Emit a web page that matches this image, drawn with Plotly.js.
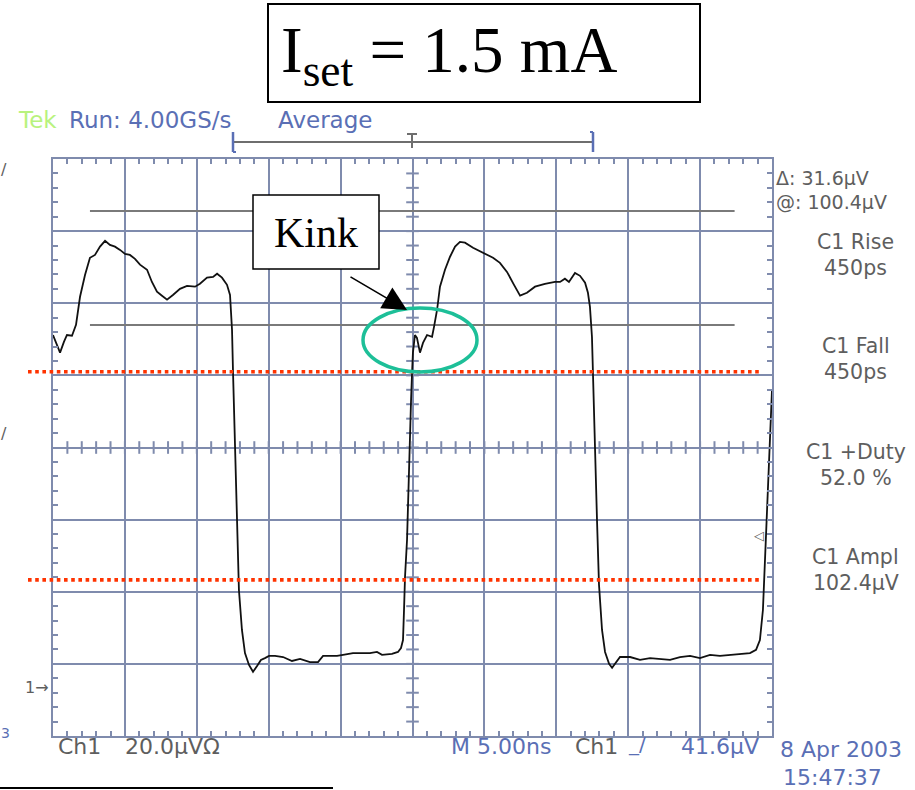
<!DOCTYPE html>
<html>
<head>
<meta charset="utf-8">
<script src="https://cdn.plot.ly/plotly-3.0.1.min.js"></script>
<style>html,body{margin:0;padding:0;background:#fff;}#chart{width:915px;height:790px;}</style>
</head>
<body>
<div id="chart"></div>
<script>
// ---- data (time in ns, 5 ns/div; voltage in µV, 20 µV/div) ----
const timeNs = [0,0.28,0.49,0.76,0.97,1.32,1.60,1.88,2.23,2.57,2.92,3.27,3.62,3.96,4.31,4.66,5.01,5.35,5.70,6.05,6.54,6.88,7.23,7.58,7.93,8.34,8.83,9.32,9.88,10.22,10.71,11.13,11.41,11.75,12.10,12.31,12.45,12.52,12.66,12.80,12.93,13.14,13.35,13.63,13.91,14.19,14.46,14.74,15.02,15.44,16.00,16.62,17.18,17.87,18.43,18.78,19.75,20.17,20.86,21.56,22.04,22.53,22.88,23.57,23.99,24.20,24.34,24.41,24.48,24.62,24.76,24.90,24.97,25.03,25.17,25.31,25.52,25.73,26.01,26.36,26.50,26.71,26.91,27.26,27.61,27.96,28.30,28.65,29.21,29.90,30.60,31.08,31.57,32.06,32.48,32.96,33.52,34.21,34.91,35.26,35.60,35.88,36.30,36.65,37.00,37.20,37.34,37.48,37.55,37.69,37.83,37.97,38.18,38.39,38.67,38.88,39.16,39.43,40.13,40.82,41.52,42.21,42.91,43.60,44.30,44.99,45.69,46.38,47.08,47.77,48.47,48.89,49.16,49.37,49.58,49.79,50.00];
const voltUV = [97.6,94.9,92.7,95.7,97.6,97.4,100.4,108.2,114.3,119.0,119.8,122.1,123.7,122.6,122.1,121.2,120.1,119.8,118.7,117.1,115.7,112.3,109.6,108.5,107.4,108.7,110.4,111.2,111.0,111.8,113.5,113.7,114.6,113.5,111.5,108.7,99.0,87.1,66.6,46.3,26.9,15.8,9.4,6.1,4.2,5.8,7.5,8.0,8.6,8.6,8.3,7.2,7.8,6.9,6.9,8.6,8.6,8.9,9.4,9.4,9.4,9.7,8.9,9.2,9.7,10.8,13.0,21.4,30.5,40.8,63.0,79.6,87.1,92.7,97.6,96.8,92.7,95.4,97.6,97.1,99.9,104.6,111.0,115.7,119.3,122.1,123.4,123.2,121.8,120.4,119.0,117.6,115.1,111.5,108.5,109.3,111.0,111.8,112.3,112.3,113.2,112.3,114.8,114.0,112.1,109.3,105.4,97.1,85.2,65.7,46.3,28.3,15.8,9.7,6.4,5.3,6.9,8.3,8.3,7.5,8.0,7.8,7.5,8.3,8.6,8.0,8.9,8.6,8.9,9.2,9.4,10.3,13.0,21.4,40.8,63.0,82.4];
const cursorLevels = [132.0, 100.4];      // gray measurement cursors (Δ 31.6 µV, @ 100.4 µV)
const cursorSpan = [2.57, 47.4];
const markerLevels = [87.4, 29.7];        // red dotted reference lines
const headerTexts = ["Tek", "Run: 4.00GS/s", "Average"];
const measureLabels = ["C1 Rise", "C1 Fall", "C1 +Duty", "C1 Ampl"];
const measureValues = ["450ps", "450ps", "52.0 %", "102.4µV"];
const cursorTexts = ["Δ: 31.6µV", "@: 100.4µV"];

// ---- scope setup ----
const nsPerDiv = 5, uvPerDiv = 20, yMin = -13.6;
const xRange = [0, 10 * nsPerDiv], yRange = [yMin, yMin + 8 * uvPerDiv];
const GRID = '#7f8bad', BLUE = '#5a6fb5', GRAY = '#5e5e5e';
const FONT = 'DejaVu Sans';

// pixel -> paper helpers for overlay decorations
const L = 53, R = 772, T = 159, B = 736;
const px = x => (x - L) / (R - L);
const py = y => (B - y) / (B - T);
const vy = v => (v - yRange[0]) / (yRange[1] - yRange[0]);

// graticule minor ticks on centre lines
const xc = (xRange[0] + xRange[1]) / 2, yc = (yRange[0] + yRange[1]) / 2;
const hx = [], hy = [], vx = [], vyv = [];
for (let i = 1; i < 50; i++) { hx.push(xRange[0] + i * nsPerDiv / 5); hy.push(yc); }
for (let i = 1; i < 40; i++) { vyv.push(yRange[0] + i * uvPerDiv / 5); vx.push(xc); }

const traces = [
  {x: hx, y: hy, mode: 'markers', hoverinfo: 'skip',
   marker: {symbol: 'line-ns-open', size: 9, color: GRID, line: {width: 2, color: GRID}}},
  {x: vx, y: vyv, mode: 'markers', hoverinfo: 'skip',
   marker: {symbol: 'line-ew-open', size: 9, color: GRID, line: {width: 2, color: GRID}}},
];
cursorLevels.forEach(v => traces.push({x: cursorSpan, y: [v, v], mode: 'lines',
  line: {color: '#7a7a7a', width: 2}, hoverinfo: 'skip'}));
traces.push({x: timeNs, y: voltUV, mode: 'lines', line: {color: '#111', width: 1.8}});

const shapes = [];
markerLevels.forEach(v => shapes.push({type: 'line', xref: 'paper', yref: 'paper',
  x0: px(28), x1: px(762), y0: vy(v), y1: vy(v), line: {color: '#ff3300', width: 3.6, dash: 'dot'}}));
// ellipse around kink
shapes.push({type: 'circle', xref: 'paper', yref: 'paper', x0: px(363), x1: px(477), y0: py(372), y1: py(308),
  line: {color: '#1dbf98', width: 3.5}});
// Kink box
shapes.push({type: 'rect', xref: 'paper', yref: 'paper', x0: px(253), x1: px(379), y0: py(269), y1: py(195),
  line: {color: '#000', width: 1.5}, fillcolor: '#fff', layer: 'above'});
// title box
shapes.push({type: 'rect', xref: 'paper', yref: 'paper', x0: px(268), x1: px(700), y0: py(102), y1: py(4),
  line: {color: '#000', width: 2}, fillcolor: 'rgba(0,0,0,0)'});
// top record bracket
const seg = (x0, y0, x1, y1, color, w) => shapes.push({type: 'line', xref: 'paper', yref: 'paper',
  x0: px(x0), x1: px(x1), y0: py(y0), y1: py(y1), line: {color: color, width: w}});
seg(233, 142, 593, 142, '#6e6e6e', 2);
seg(233, 132, 233, 152, BLUE, 2.5);
seg(593, 132, 593, 152, BLUE, 2.5);
seg(233, 152, 236, 152, BLUE, 2);
seg(590, 132, 593, 132, BLUE, 2);
seg(412, 134, 412, 148, '#6e6e6e', 2);
seg(407, 134, 417, 134, '#6e6e6e', 2);
// bottom slide line
seg(0, 788, 333, 788, '#000', 2);

function txt(text, x, y, color, size, xanchor, family, yanchor) {
  return {text: text, xref: 'paper', yref: 'paper', x: px(x), y: py(y), xanchor: xanchor || 'left',
    yanchor: yanchor || 'middle', borderpad: 0,
    showarrow: false, font: {family: family || FONT, size: size, color: color}};
}
const ann = [];
ann.push(txt('I<sub>set</sub> = 1.5 mA', 449, 55, '#000', 65, 'center', 'Liberation Serif'));
ann.push(txt('Kink', 316, 233, '#000', 42, 'center', 'Liberation Serif'));
ann.push({xref: 'paper', yref: 'paper', x: px(407), y: py(310), ax: -58, ay: -34, text: '', showarrow: true,
  arrowhead: 2, arrowsize: 3, arrowwidth: 1.6, arrowcolor: '#000', standoff: 0});
ann.push(txt(headerTexts[0], 17, 120, '#b8f27e', 23));
ann.push(txt(headerTexts[1], 68, 120, BLUE, 23));
ann.push(txt(headerTexts[2], 277, 120, BLUE, 23));
ann.push(txt(cursorTexts[0], 775, 190, GRAY, 19, 'left', FONT, 'bottom'));
ann.push(txt(cursorTexts[1], 775, 190, GRAY, 19, 'left', FONT, 'top'));
const midY = [255, 359, 465, 570];
measureLabels.forEach((t, i) => {
  ann.push(txt(t, 856, midY[i], GRAY, 20.5, 'center', FONT, 'bottom'));
  ann.push(txt(measureValues[i], 856, midY[i], GRAY, 20.5, 'center', FONT, 'top'));
});
ann.push(txt('Ch1', 57, 746, GRAY, 22));
ann.push(txt('20.0µVΩ', 124, 746, GRAY, 22));
ann.push(txt('M 5.00ns', 450, 746, BLUE, 22));
ann.push(txt('Ch1', 574, 746, GRAY, 22));
ann.push(txt('_/', 627, 744, BLUE, 20));
ann.push(txt('41.6µV', 680, 746, BLUE, 22));
ann.push(txt('8 Apr 2003', 779, 749, BLUE, 22));
ann.push(txt('15:47:37', 782, 777, BLUE, 22));
ann.push(txt('1→', 24, 687, GRAY, 16));
ann.push(txt('◁', 753, 535, GRAY, 13));
ann.push(txt('/', 0, 170, GRAY, 16));
ann.push(txt('/', 0, 433, GRAY, 16));
ann.push(txt('3', 0, 733, BLUE, 14));

const layout = {
  width: 915, height: 790, showlegend: false,
  paper_bgcolor: '#fff', plot_bgcolor: '#fff',
  margin: {l: L, r: 915 - R, t: T, b: 790 - B, pad: 0},
  xaxis: {range: xRange, tick0: 0, dtick: nsPerDiv, showgrid: true, gridcolor: GRID, gridwidth: 2,
    zeroline: false, showline: true, mirror: 'ticks', linecolor: GRID, linewidth: 2,
    ticks: 'inside', ticklen: 5, tickwidth: 2, tickcolor: GRID, showticklabels: false, fixedrange: true,
    minor: {dtick: nsPerDiv / 5, tick0: 0, ticks: 'inside', ticklen: 5, tickwidth: 2, tickcolor: GRID, showgrid: false}},
  yaxis: {range: yRange, tick0: yMin, dtick: uvPerDiv, showgrid: true, gridcolor: GRID, gridwidth: 2,
    zeroline: false, showline: true, mirror: 'ticks', linecolor: GRID, linewidth: 2,
    ticks: 'inside', ticklen: 5, tickwidth: 2, tickcolor: GRID, showticklabels: false, fixedrange: true,
    minor: {dtick: uvPerDiv / 5, tick0: yMin, ticks: 'inside', ticklen: 5, tickwidth: 2, tickcolor: GRID, showgrid: false}},
  shapes: shapes, annotations: ann
};
Plotly.newPlot('chart', traces, layout, {staticPlot: true, displayModeBar: false});
</script>
</body>
</html>
